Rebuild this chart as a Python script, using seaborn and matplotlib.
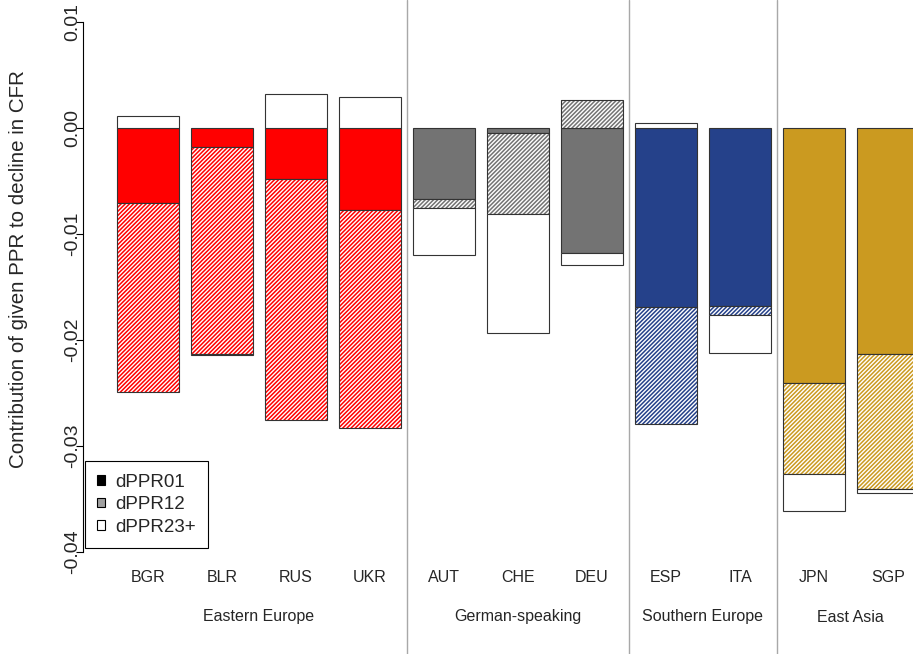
import numpy as np
import pandas as pd
import matplotlib
matplotlib.use("Agg")
import matplotlib.pyplot as plt
from matplotlib.patches import Patch
import seaborn as sns

# ─── data ────────────────────────────────────────────────────────────────────
countries = ["BGR", "BLR", "RUS", "UKR", "AUT", "CHE", "DEU", "ESP", "ITA", "JPN", "SGP"]
regions   = ["Eastern Europe"] * 4 + ["German-speaking"] * 3 + ["Southern Europe"] * 2 + ["East Asia"] * 2
region_names = ["Eastern Europe", "German-speaking", "Southern Europe", "East Asia"]

dppr01  = [-0.0071, -0.0018, -0.0048, -0.0077, -0.0067, -0.0005, -0.0118, -0.0169, -0.0168, -0.0241, -0.0213]
dppr12  = [-0.0178, -0.0195, -0.0227, -0.0206, -0.0008, -0.0076,  0.0026, -0.0110, -0.0008, -0.0085, -0.0128]
dppr23  = [ 0.0011, -0.0001,  0.0032,  0.0029, -0.0045, -0.0112, -0.0011,  0.0005, -0.0036, -0.0035, -0.0003]

yticks = [-0.04, -0.03, -0.02, -0.01, 0.00, 0.01]

REGION_COL = {"Eastern Europe": "#FF0000", "German-speaking": "#737373",
              "Southern Europe": "#25418A", "East Asia": "#CB9A20"}
EDGE = "#333333"
BAR_W = 0.833

sns.set_theme(style="white")
plt.rcParams["font.family"] = ["Liberation Sans", "DejaVu Sans"]
plt.rcParams["hatch.linewidth"] = 1.1

df = pd.DataFrame({"country": countries, "region": regions,
                   "dPPR01": dppr01, "dPPR12": dppr12, "dPPR23": dppr23})
x = np.arange(len(countries))

fig = plt.figure(figsize=(9.13, 6.54), dpi=100)
ax = fig.add_axes([83 / 913, 0, 1 - 83 / 913, 1])

# first layer (solid) through seaborn
sns.barplot(data=df, x="country", y="dPPR01", hue="region", palette=REGION_COL,
            dodge=False, width=BAR_W, saturation=1, edgecolor=EDGE, linewidth=0.8,
            legend=False, ax=ax)

# stack the remaining layers
neg = np.minimum(df["dPPR01"].to_numpy(), 0)
pos = np.maximum(df["dPPR01"].to_numpy(), 0)
cols = [REGION_COL[r] for r in regions]
for comp in ["dPPR12", "dPPR23"]:
    v = df[comp].to_numpy()
    bottom = np.where(v < 0, neg, pos)
    if comp == "dPPR12":
        for xi, vi, bi, c in zip(x, v, bottom, cols):
            ax.bar(xi, vi, bottom=bi, width=BAR_W, color="white", edgecolor=c,
                   hatch="////////", linewidth=0)
    else:
        ax.bar(x, v, bottom=bottom, width=BAR_W, color="white", linewidth=0)
    ax.bar(x, v, bottom=bottom, width=BAR_W, fill=False, edgecolor=EDGE, linewidth=0.8)
    neg = neg + np.minimum(v, 0)
    pos = pos + np.maximum(v, 0)

# axes cosmetics
ax.set_xlim(-0.88, 10.34)
ax.set_ylim(-0.04962, 0.01208)
for s in ["top", "right", "bottom"]:
    ax.spines[s].set_visible(False)
ax.spines["left"].set_bounds(-0.04, 0.01)
ax.spines["left"].set_color("black")
ax.spines["left"].set_linewidth(0.8)
ax.set_xticks([])
ax.set_xlabel("")
ax.set_yticks(yticks)
ax.set_yticklabels([f"{v:.2f}" for v in yticks], rotation=90, va="center", fontsize=14)
ax.tick_params(axis="y", left=True, length=5, width=0.8, color="black", pad=-4)
ax.set_ylabel("Contribution of given PPR to decline in CFR", fontsize=14.8)
ax.yaxis.set_label_coords(-0.066, 1 - 269 / 654)

# group separators
for sep in [3.5, 6.5, 8.5]:
    ax.axvline(sep, color="#A8A8A8", linewidth=1.0, zorder=0)

# country and region labels
trans = ax.get_xaxis_transform()
for xi, c in zip(x, countries):
    ax.text(xi, 1 - 578 / 654, c, transform=trans, ha="center", va="center", fontsize=11.5)
for r in region_names:
    cx = x[np.array(regions) == r].mean()
    ax.text(cx, 1 - 617 / 654, r, transform=trans, ha="center", va="center", fontsize=11.5)

# legend
handles = [Patch(facecolor=c, edgecolor="black", linewidth=0.8, label=l)
           for c, l in zip(["black", "#A0A0A0", "white"], ["dPPR01", "dPPR12", "dPPR23+"])]
leg = ax.legend(handles=handles, loc="lower left", bbox_to_anchor=(85 / 913, 1 - 548 / 654),
                bbox_transform=fig.transFigure, borderaxespad=0, fontsize=13.5,
                handlelength=0.4, handleheight=0.4, handletextpad=0.55, labelspacing=0.3,
                borderpad=0.65, fancybox=False, framealpha=1, edgecolor="black")
leg.get_frame().set_linewidth(0.8)

fig.savefig("out.png", dpi=100)
